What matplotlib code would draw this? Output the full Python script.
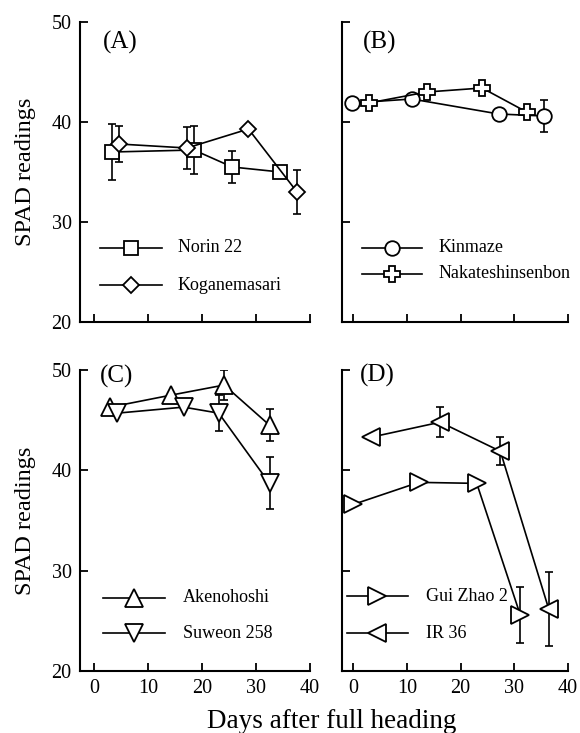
import numpy as np
import matplotlib
matplotlib.use("Agg")
import matplotlib.pyplot as plt

plt.rcParams['font.family'] = ['Liberation Serif', 'DejaVu Serif']

# ---- data: SPAD readings after full heading ----
norin_days = [3.3, 18.5, 25.6, 34.5]
norin_spad = [37.0, 37.2, 35.5, 35.0]
norin_err = [2.8, 2.4, 1.6, 0.0]

kogane_days = [4.6, 17.2, 28.6, 37.6]
kogane_spad = [37.8, 37.4, 39.3, 33.0]
kogane_err = [1.8, 2.1, 0.0, 2.2]

kinmaze_days = [-0.2, 10.9, 27.1, 35.5]
kinmaze_spad = [41.9, 42.3, 40.8, 40.6]
kinmaze_err = [0.0, 0.0, 0.0, 1.6]

nakate_days = [2.9, 13.7, 24.0, 32.3]
nakate_spad = [41.9, 43.0, 43.4, 41.0]
nakate_err = [0.0, 0.0, 0.0, 0.0]

akeno_days = [3.0, 14.3, 24.1, 32.5]
akeno_spad = [46.3, 47.5, 48.5, 44.5]
akeno_err = [0.0, 0.0, 1.5, 1.6]

suweon_days = [4.3, 16.6, 23.1, 32.5]
suweon_spad = [45.7, 46.3, 45.7, 38.7]
suweon_err = [0.0, 0.0, 1.8, 2.6]

guizhao_days = [0.0, 12.2, 23.0, 31.1]
guizhao_spad = [36.6, 38.8, 38.7, 25.6]
guizhao_err = [0.0, 0.0, 0.0, 2.8]

ir36_days = [3.3, 16.2, 27.4, 36.4]
ir36_spad = [43.3, 44.8, 41.9, 26.2]
ir36_err = [0.0, 1.5, 1.4, 3.7]

panel_labels = ["(A)", "(B)", "(C)", "(D)"]
x_ticks = [0, 10, 20, 30, 40]
y_ticks = [20, 30, 40, 50]

W, H = 580, 733
fig = plt.figure(figsize=(W / 100, H / 100), dpi=100)


def axes_px(x0, y_top, x1, y_bot):
    return fig.add_axes([x0 / W, 1 - y_bot / H, (x1 - x0) / W, (y_bot - y_top) / H])


ax_a = axes_px(80, 22, 310, 322)
ax_b = axes_px(342, 22, 568, 322)
ax_c = axes_px(80, 370, 310, 671)
ax_d = axes_px(342, 370, 568, 671)

MS = dict(markerfacecolor='white', markeredgecolor='black', markeredgewidth=1.3,
          color='black', linewidth=1.2)


def series(ax, days, spad, err, marker, ms):
    days = np.asarray(days)
    spad = np.asarray(spad)
    err = np.asarray(err)
    has = err > 0
    if has.any():
        ax.errorbar(days[has], spad[has], yerr=err[has], fmt='none', ecolor='black',
                    elinewidth=1.2, capsize=3.2, capthick=1.2, zorder=2)
    ax.plot(days, spad, marker=marker, markersize=ms, zorder=3, **MS)


def legend_row(ax, y, x0, x1, xt, marker, ms, label):
    ax.plot([x0, (x0 + x1) / 2, x1], [y, y, y], marker=marker, markersize=ms,
            markevery=[1], transform=ax.transAxes, clip_on=False, zorder=3, **MS)
    ax.text(xt, y, label, transform=ax.transAxes, ha='left', va='center', fontsize=13)


series(ax_a, norin_days, norin_spad, norin_err, 's', 9.5)
series(ax_a, kogane_days, kogane_spad, kogane_err, 'D', 8.5)
series(ax_b, kinmaze_days, kinmaze_spad, kinmaze_err, 'o', 10.5)
series(ax_b, nakate_days, nakate_spad, nakate_err, 'P', 11)
series(ax_c, akeno_days, akeno_spad, akeno_err, '^', 13)
series(ax_c, suweon_days, suweon_spad, suweon_err, 'v', 13)
series(ax_d, guizhao_days, guizhao_spad, guizhao_err, '>', 12.5)
series(ax_d, ir36_days, ir36_spad, ir36_err, '<', 12.5)

# legends drawn as rows in axes fractions
legend_row(ax_a, 0.247, 0.087, 0.357, 0.426, 's', 9.5, "Norin 22")
legend_row(ax_a, 0.123, 0.087, 0.357, 0.426, 'D', 8.5, "Koganemasari")
legend_row(ax_b, 0.247, 0.088, 0.354, 0.425, 'o', 10.5, "Kinmaze")
legend_row(ax_b, 0.160, 0.088, 0.354, 0.425, 'P', 11, "Nakateshinsenbon")
legend_row(ax_c, 0.243, 0.100, 0.370, 0.448, '^', 13, "Akenohoshi")
legend_row(ax_c, 0.126, 0.100, 0.370, 0.448, 'v', 13, "Suweon 258")
legend_row(ax_d, 0.249, 0.022, 0.292, 0.372, '>', 12.5, "Gui Zhao 2")
legend_row(ax_d, 0.126, 0.022, 0.292, 0.372, '<', 12.5, "IR 36")

label_pos = [(0.10, 0.933), (0.093, 0.933), (0.087, 0.977), (0.08, 0.983)]
for ax, lab, (lx, ly) in zip([ax_a, ax_b, ax_c, ax_d], panel_labels, label_pos):
    ax.text(lx, ly, lab, transform=ax.transAxes, ha='left', va='center', fontsize=18)

for ax, left_col, bottom_row in [(ax_a, True, False), (ax_b, False, False),
                                 (ax_c, True, True), (ax_d, False, True)]:
    ax.set_xlim(-2.6 if left_col else -2.1, 40)
    ax.set_ylim(20, 50)
    ax.set_xticks(x_ticks)
    ax.set_yticks(y_ticks)
    for s in ['top', 'right']:
        ax.spines[s].set_visible(False)
    for s in ['left', 'bottom']:
        ax.spines[s].set_linewidth(1.5)
    ax.tick_params(direction='in', length=6, width=1.3, labelsize=14.5, pad=6)
    if not left_col:
        ax.set_yticklabels([])
    else:
        ax.set_ylabel("SPAD readings", fontsize=17.5)
        ax.yaxis.set_label_coords(-0.19, 0.5)
    if not bottom_row:
        ax.set_xticklabels([])

fig.text(332 / W, 1 - 722 / H, "Days after full heading", ha='center', va='center', fontsize=19.5)

fig.savefig("out.png", dpi=100)
